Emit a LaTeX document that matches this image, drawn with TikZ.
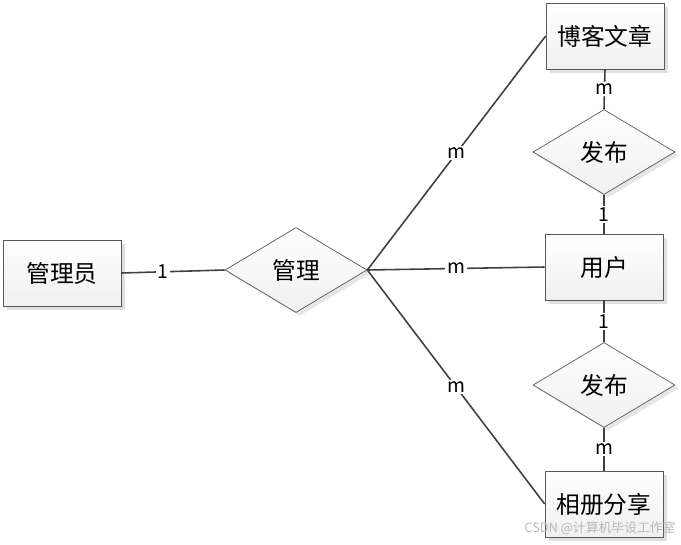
\documentclass[tikz,border=0pt]{standalone}
\usepackage{fontspec}
\setmainfont{Noto Sans CJK SC}
\usetikzlibrary{shapes.geometric,shadows}
\begin{document}
\begin{tikzpicture}[x=0.02cm,y=-0.02cm,
	entity/.style={draw=gray!70!black,top color=white,bottom color=gray!12,drop shadow={opacity=0.25,shadow xshift=2pt,shadow yshift=-2pt},minimum width=2.36cm,minimum height=1.32cm,font=\fontsize{13.5}{15}\selectfont},
	relation/.style={diamond,draw=gray!70!black,top color=white,bottom color=gray!12,drop shadow={opacity=0.2,shadow xshift=2pt,shadow yshift=-2pt},minimum width=2.84cm,minimum height=1.7cm,inner sep=0pt,font=\fontsize{13.5}{15}\selectfont},
	link/.style={draw=black!75,line width=0.9pt},
	card/.style={fill=white,inner sep=1pt,font=\fontsize{11}{12}\selectfont}]
	\useasboundingbox (0,0) rectangle (681,545);
	\node[entity] (admin) at (62,273) {管理员};
	\node[relation] (manage) at (296,270) {管理};
	\node[entity] (blog) at (605,36) {博客文章};
	\node[relation] (pubtop) at (604,152) {发布};
	\node[entity] (user) at (604,267) {用户};
	\node[relation] (pubbot) at (604,385) {发布};
	\node[entity] (album) at (604,504) {相册分享};
	\draw[link] (admin.east) -- node[card,pos=0.4]{1} (manage.west);
	\draw[link] (manage.east) -- node[card]{m} (blog.west);
	\draw[link] (manage.east) -- node[card]{m} (user.west);
	\draw[link] (manage.east) -- node[card]{m} (album.west);
	\draw[link] (blog.south) -- node[card]{m} (pubtop.north);
	\draw[link] (pubtop.south) -- node[card]{1} (user.north);
	\draw[link] (user.south) -- node[card]{1} (pubbot.north);
	\draw[link] (pubbot.south) -- node[card]{m} (album.north);
	\node[text=gray!55,font=\fontsize{7.3}{8}\selectfont] (mark) at (600,528) {CSDN @计算机毕设工作室};
\end{tikzpicture}
\end{document}
